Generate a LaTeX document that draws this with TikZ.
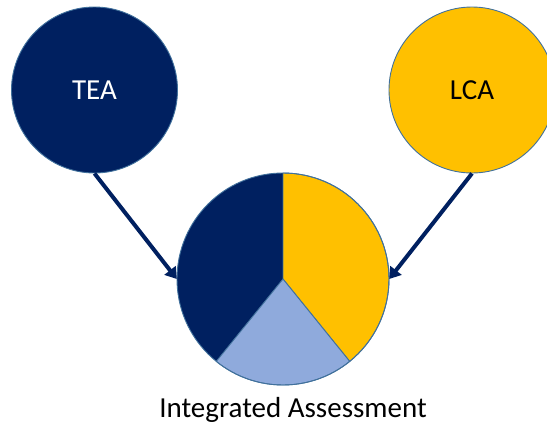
\documentclass[tikz,border=0pt]{standalone}
\usepackage{fontspec}
\setmainfont{Carlito}
\usetikzlibrary{arrows.meta}
\definecolor{navy}{HTML}{002060}
\definecolor{gold}{HTML}{FFC000}
\definecolor{lightblue}{HTML}{8FAADC}
\definecolor{rim}{HTML}{41719C}
\tikzset{
  bubble/.style={circle, draw=rim, line width=0.9pt, minimum size=166pt, inner sep=0pt, font=\fontsize{29}{32}\selectfont},
  link/.style={draw=navy, line width=4pt, -{Triangle[length=11pt,width=14pt]}},
  slice/.style={draw=rim, line width=0.9pt, line join=round}
}
\begin{document}
\begin{tikzpicture}[x=1pt,y=-1pt]
\useasboundingbox (0,0) rectangle (547,426);
\begin{scope}
\clip (0,0) rectangle (547,426);
\node[bubble, fill=navy, text=white] (tea) at (94.5,90) {TEA};
\node[bubble, fill=gold, text=black] (lca) at (472,90) {LCA};
\end{scope}
% pie
\coordinate (pc) at (283,279);
\node[circle, minimum size=212pt, inner sep=0pt] (pie) at (pc) {};
\fill[navy] (pc) -- ++(0,-106) arc[start angle=-90, end angle=-231, radius=106] -- cycle;
\filldraw[slice, fill=gold] (pc) -- ++(0,-106) arc[start angle=-90, end angle=51, radius=106] -- cycle;
\filldraw[slice, fill=lightblue] (pc) -- ++(51:106) arc[start angle=51, end angle=129, radius=106] -- cycle;
\draw[slice] (pc) circle[radius=106];
\node[font=\fontsize{29}{32}\selectfont, anchor=base] (label) at (293,417) {Integrated Assessment};
\draw[link] (tea.south) -- (pie.west);
\draw[link] (lca.south) -- (pie.east);
\end{tikzpicture}
\end{document}
